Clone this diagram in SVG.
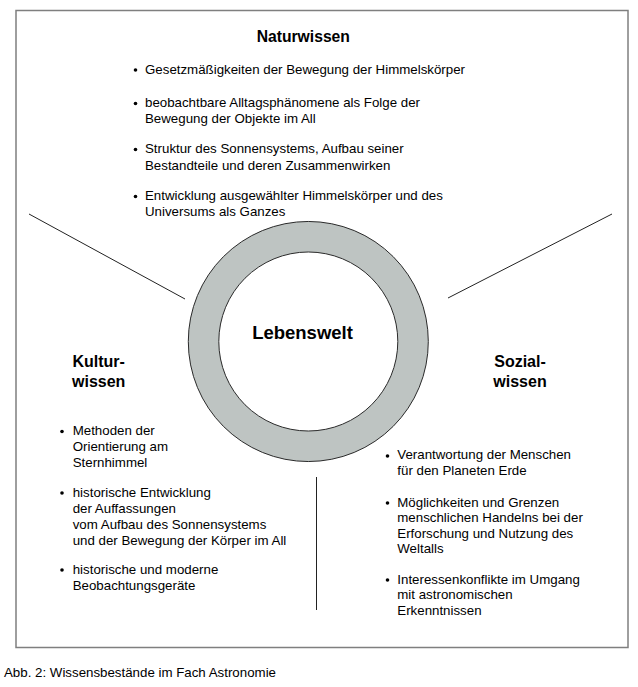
<svg xmlns="http://www.w3.org/2000/svg" width="638" height="687" viewBox="0 0 638 687">
<style>
text{font-family:"Liberation Sans",Arial,sans-serif;fill:#000}
.t{font-size:13.3px}
.h{font-size:16px;font-weight:bold}
.c{text-anchor:middle}
.ln{stroke:#222;stroke-width:1;fill:none}
</style>
<rect x="0" y="0" width="638" height="687" fill="#fff"/>
<rect x="16" y="10.5" width="612" height="637" fill="#fff" stroke="#7f7f7f" stroke-width="1.5"/>
<g id="connectors">
<line class="ln" x1="29" y1="214" x2="185" y2="299"/>
<line class="ln" x1="612" y1="214" x2="448" y2="298"/>
<line class="ln" x1="316.5" y1="477" x2="316.5" y2="610"/>
</g>
<g id="lebenswelt">
<path d="M428.3,341.5 A120,120 0 1,1 188.3,341.5 A120,120 0 1,1 428.3,341.5 Z M397.8,341.5 A89.5,89.5 0 1,0 218.8,341.5 A89.5,89.5 0 1,0 397.8,341.5 Z" fill="#bec4c2" fill-rule="evenodd" stroke="#2a2a2a" stroke-width="1"/>
<text class="h c" x="302.5" y="339.3" style="font-size:18.5px">Lebenswelt</text>
</g>
<g id="naturwissen">
<text class="h c" x="303.3" y="41.7" style="font-size:15.7px">Naturwissen</text>
<circle cx="135.5" cy="70" r="1.8"/>
<text class="t" x="145" y="73.5">Gesetzmäßigkeiten der Bewegung der Himmelskörper</text>
<circle cx="135.5" cy="103.5" r="1.8"/>
<text class="t" x="145" y="107">beobachtbare Alltagsphänomene als Folge der</text>
<text class="t" x="145" y="123">Bewegung der Objekte im All</text>
<circle cx="135.5" cy="149.5" r="1.8"/>
<text class="t" x="145" y="153">Struktur des Sonnensystems, Aufbau seiner</text>
<text class="t" x="145" y="169.5">Bestandteile und deren Zusammenwirken</text>
<circle cx="135.5" cy="196.5" r="1.8"/>
<text class="t" x="145" y="200">Entwicklung ausgewählter Himmelskörper und des</text>
<text class="t" x="145" y="216">Universums als Ganzes</text>
</g>
<g id="kulturwissen">
<text class="h c" x="98.7" y="366.5">Kultur-</text>
<text class="h c" x="98.7" y="387">wissen</text>
<circle cx="62" cy="431.5" r="1.8"/>
<text class="t" x="72.7" y="435">Methoden der</text>
<text class="t" x="72.7" y="451">Orientierung am</text>
<text class="t" x="72.7" y="467">Sternhimmel</text>
<circle cx="62" cy="493" r="1.8"/>
<text class="t" x="72.7" y="496.7">historische Entwicklung</text>
<text class="t" x="72.7" y="512.7">der Auffassungen</text>
<text class="t" x="72.7" y="528.7">vom Aufbau des Sonnensystems</text>
<text class="t" x="72.7" y="544.7">und der Bewegung der Körper im All</text>
<circle cx="62" cy="570" r="1.8"/>
<text class="t" x="72.7" y="573.5">historische und moderne</text>
<text class="t" x="72.7" y="589.5">Beobachtungsgeräte</text>
</g>
<g id="sozialwissen">
<text class="h c" x="520" y="366.5">Sozial-</text>
<text class="h c" x="520" y="387">wissen</text>
<circle cx="387.5" cy="456" r="1.8"/>
<text class="t" x="397.3" y="459.3">Verantwortung der Menschen</text>
<text class="t" x="397.3" y="475.3">für den Planeten Erde</text>
<circle cx="387.5" cy="503" r="1.8"/>
<text class="t" x="397.3" y="506.5">Möglichkeiten und Grenzen</text>
<text class="t" x="397.3" y="522">menschlichen Handelns bei der</text>
<text class="t" x="397.3" y="537.5">Erforschung und Nutzung des</text>
<text class="t" x="397.3" y="553">Weltalls</text>
<circle cx="387.5" cy="580" r="1.8"/>
<text class="t" x="397.3" y="583.5">Interessenkonflikte im Umgang</text>
<text class="t" x="397.3" y="599">mit astronomischen</text>
<text class="t" x="397.3" y="614.5">Erkenntnissen</text>
</g>
<text class="t" x="4" y="676.7">Abb. 2: Wissensbestände im Fach Astronomie</text>
</svg>
